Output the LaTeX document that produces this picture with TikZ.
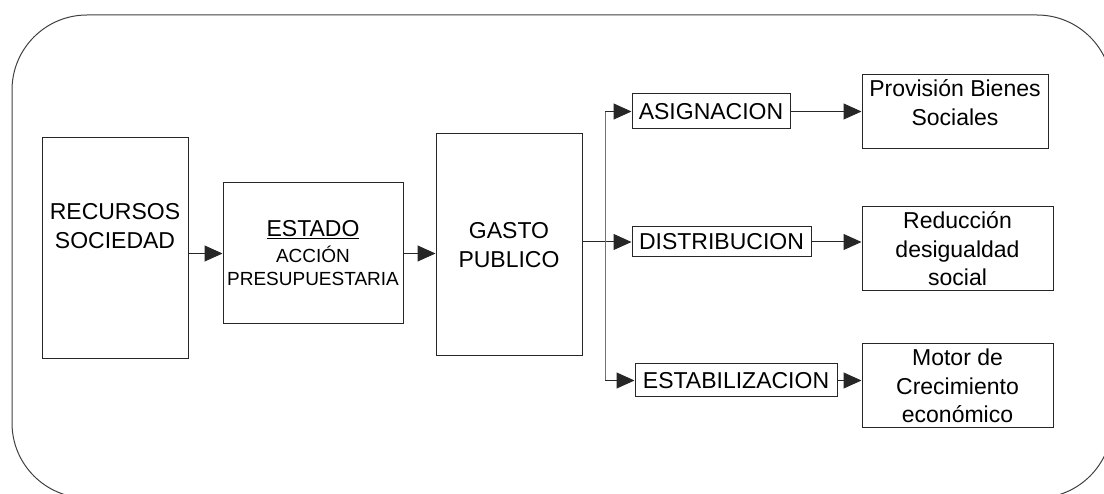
\documentclass[tikz,border=0pt]{standalone}
\usepackage{fontspec}
\setmainfont{Liberation Sans}
\usetikzlibrary{arrows.meta,positioning}

\begin{document}
\begin{tikzpicture}[x=1pt, y=-1pt,
        basic/.style  = {draw=black!85, line width=1pt, rectangle, inner sep=0pt, align=center, font=\fontsize{23}{28.5}\selectfont},
        big/.style    = {basic, minimum width=146pt, minimum height=221pt},
        middle/.style = {basic, minimum width=180pt, minimum height=141pt},
        func/.style   = {basic, minimum height=32pt},
        goal/.style   = {basic, minimum width=191pt, minimum height=84pt},
        link/.style   = {->, line width=1pt, draw=black!85},
        >={Triangle[length=18pt, width=16pt]}]

        \useasboundingbox (0,0) rectangle (1104,494);
        \clip (0,0) rectangle (1104,494);

        % outer frame
        \draw[black!75, line width=1pt, rounded corners=75pt] (12,15) rectangle (1112,498);

        % main chain, left to right
        \node[big] (rec) at (115,248.5) {};
        \node[align=center, font=\fontsize{23}{28.5}\selectfont] (rectext) at (115,226) {RECURSOS\\SOCIEDAD};
        \node[middle] (est) at (313,253.5) {\underline{ESTADO}\\[-3pt]{\fontsize{19}{23}\selectfont ACCIÓN}\\[-5pt]{\fontsize{19}{23}\selectfont PRESUPUESTARIA}};
        \node[big, minimum height=222pt] (gasto) at (509,245) {GASTO\\PUBLICO};

        % functions of the budget
        \begin{scope}[every node/.style={func}]
            \node[minimum width=158pt, minimum height=35pt] (asig) at (711,111.5) {ASIGNACION};
            \node[minimum width=179pt, minimum height=30pt] (dist) at (721.5,242) {DISTRIBUCION};
            \node[minimum width=202pt, minimum height=33pt] (estab) at (736,380.5) {ESTABILIZACION};
        \end{scope}

        % what each function brings
        \begin{scope}[every node/.style={goal}]
            \node[minimum width=186pt, minimum height=74pt] (prov) at (955,112) {Provisión Bienes\\Sociales\\[-10pt]};
            \node (redu) at (957.5,249) {Reducción\\desigualdad\\social};
            \node (motor) at (957.5,386) {Motor de\\Crecimiento\\económico};
        \end{scope}

        % arrows along the chain
        \draw[link] (rec.east |- est.west) -- (est.west);
        \draw[link] (est.east) -- (gasto.west |- est.east);
        \draw[link] (gasto.east |- dist.west) -- (dist.west);

        % the branching line
        \coordinate (bus) at (605,245);
        \draw[black!55, line width=1pt] (bus |- asig.west) -- (bus |- estab.west);
        \foreach \value in {asig,estab}
        \draw[link] (bus |- \value.west) -- (\value.west);

        % arrows to the results
        \draw[link] (asig.east) -- (prov.west |- asig.east);
        \draw[link] (dist.east) -- (redu.west |- dist.east);
        \draw[link] (estab.east) -- (motor.west |- estab.east);

    \end{tikzpicture}
\end{document}
